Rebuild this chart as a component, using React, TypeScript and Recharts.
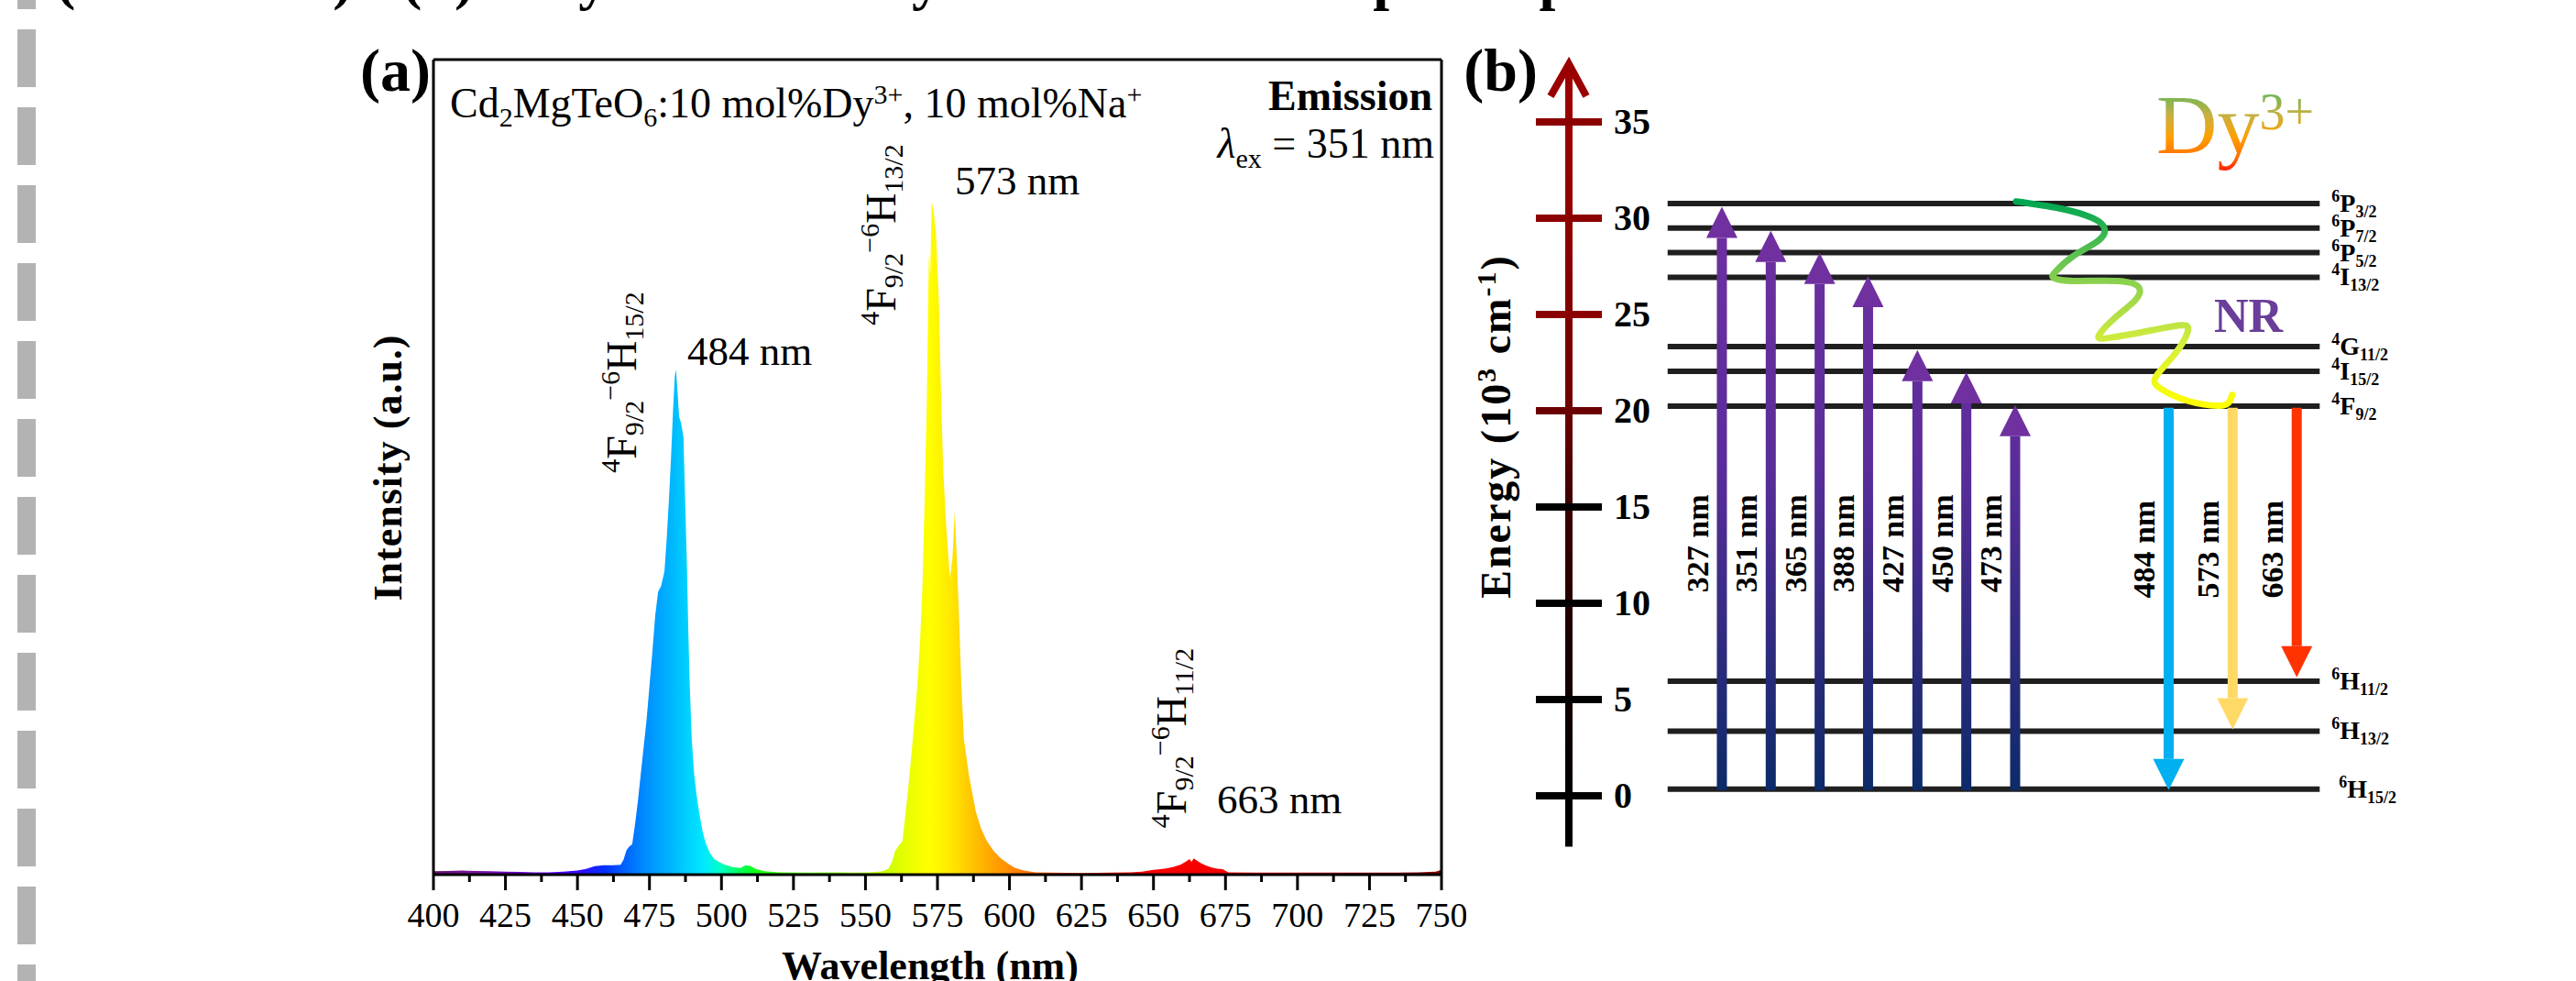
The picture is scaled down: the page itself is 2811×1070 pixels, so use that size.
import React from 'react';
import { ComposedChart, Area, Line, XAxis, YAxis, ReferenceLine, ReferenceDot } from 'recharts';

const SERIF = '"Liberation Serif", "Times New Roman", serif';

// (a) emission spectrum, lambda_ex = 351 nm (a.u., 573 nm peak = 100)
const wavelength = [
  400, 405, 410, 415, 420, 425, 430, 435, 440, 445, 450, 453, 456, 459, 462, 465, 466, 467, 468, 469,
  470, 471, 472, 473, 474, 475, 476, 477, 478, 479, 480.2, 481, 481.8, 482.5, 483.2, 483.8, 484.2, 484.7, 485.3, 486,
  486.8, 487.3, 488, 488.5, 489, 489.7, 490.5, 491.3, 492.2, 493.4, 494.6, 496, 497.5, 499.5, 501, 503.5, 506.5, 508.5, 510, 512,
  515, 520, 530, 540, 545, 552, 556, 558, 559.3, 560.3, 561.5, 562.8, 564, 565, 566, 567, 568, 569, 569.8, 570.5,
  571.3, 572, 572.5, 573, 573.8, 574.5, 575.5, 576.2, 577, 578, 579.3, 580.2, 581, 581.8, 582.5, 583.3, 584.2, 585.9, 588.3, 590,
  592, 594.5, 597, 600, 602, 605, 609, 615, 625, 635, 642, 646, 650, 654, 657, 659.5, 661.5, 662.5, 663.2, 664,
  665, 666.5, 668, 670, 672, 674, 676, 685, 700, 715, 730, 742, 748, 750,
];
const intensity = [
  0.5, 0.55, 0.6, 0.55, 0.5, 0.45, 0.4, 0.35, 0.35, 0.45, 0.6, 0.85, 1.25, 1.4, 1.4, 1.45, 2.2, 3.6, 4.2, 4.5,
  7.5, 11, 15, 19, 23, 28, 33, 38.5, 42, 42.8, 45, 50, 56, 62, 69, 74, 75, 72, 68, 67,
  65, 57, 46, 36, 28, 20, 15, 12, 9.4, 6.5, 4.6, 3.2, 2.3, 1.8, 1.5, 1.15, 1.0, 1.4, 1.3, 0.8,
  0.5, 0.35, 0.3, 0.35, 0.3, 0.35, 0.5, 0.9, 2.0, 3.5, 4.3, 4.9, 9.4, 13.5, 18, 23, 28, 35, 43, 55,
  70, 92, 89, 100, 98, 95, 85, 72, 60, 52, 44, 47, 54, 46, 38, 28, 20, 14.8, 9.4, 7,
  5.1, 3.5, 2.4, 1.5, 1.0, 0.6, 0.35, 0.3, 0.25, 0.3, 0.35, 0.45, 0.7, 0.9, 1.15, 1.5, 2.0, 2.3, 1.9, 2.4,
  2.1, 1.7, 1.4, 1.1, 0.9, 0.8, 0.35, 0.3, 0.3, 0.3, 0.3, 0.35, 0.45, 0.7,
];
const wavelengthTicks = [
  400, 412.5, 425, 437.5, 450, 462.5, 475, 487.5, 500, 512.5, 525, 537.5, 550, 562.5, 575,
  587.5, 600, 612.5, 625, 637.5, 650, 662.5, 675, 687.5, 700, 712.5, 725, 737.5, 750,
];
const spectrumColors: [number, string][] = [
  [400, '#6b0f73'], [415, '#7a14a0'], [430, '#7000d0'], [442, '#5a00ff'], [452, '#2a10ff'],
  [460, '#0033ff'], [467, '#0066ff'], [474, '#0090ff'], [482, '#00b4ff'], [488, '#00d0ff'],
  [494, '#00eaff'], [500, '#00ffc0'], [506, '#00ff60'], [512, '#10ff10'], [525, '#50ff00'],
  [545, '#99ff00'], [558, '#ccff00'], [566, '#eeff00'], [572, '#ffff00'], [580, '#ffe600'],
  [587, '#ffc400'], [595, '#ffa000'], [604, '#ff7a00'], [615, '#ff4d00'], [628, '#ff2000'],
  [640, '#ff0000'], [680, '#f00000'], [710, '#c00000'], [735, '#990000'], [750, '#800000'],
];

// (b) Dy3+ energy levels (10^3 cm-1)
const levelSup = ['6', '6', '6', '4', '4', '4', '4', '6', '6', '6'];
const levelLetter = ['P', 'P', 'P', 'I', 'G', 'I', 'F', 'H', 'H', 'H'];
const levelSub = ['3/2', '7/2', '5/2', '13/2', '11/2', '15/2', '9/2', '11/2', '13/2', '15/2'];
const levelEnergy = [30.76, 29.49, 28.21, 26.93, 23.33, 22.05, 20.24, 5.95, 3.36, 0.35];
const energyTicks = [0, 5, 10, 15, 20, 25, 30, 35];

const excitationNm = [327, 351, 365, 388, 427, 450, 473];
const excitationTop = [30.6, 29.35, 28.2, 27.0, 23.15, 22.0, 20.3];
const excitationSlot = [3.13, 4.13, 5.13, 6.12, 7.13, 8.13, 9.13];

const emissionNm = [484, 573, 663];
const emissionEnd = [0.3, 3.45, 6.15];
const emissionSlot = [12.27, 13.58, 14.89];
const emissionColor = ['#00b0f0', '#ffd966', '#ff3300'];

// non-radiative relaxation path 6P3/2 -> 4F9/2
const nrSlot = [9.15, 10.04, 10.7, 10.95, 10.85, 10.33, 9.96, 9.92, 10.33, 11.22, 11.66, 11.59, 11.22, 10.85, 11.07, 11.95, 12.54, 12.66, 12.4, 12.02, 12.1, 12.68, 13.28, 13.5, 13.57];
const nrEnergy = [30.87, 30.51, 30.02, 29.52, 28.87, 28.05, 27.23, 26.9, 26.74, 26.74, 26.41, 25.75, 24.93, 23.95, 23.79, 24.19, 24.44, 24.11, 22.96, 21.82, 21.16, 20.5, 20.26, 20.42, 20.83];

const spectrum = wavelength.map((wl, k) => ({ wl, v: intensity[k] }));
const nrPath = nrSlot.map((x, k) => ({ x, e: nrEnergy[k] }));

const LEVEL_START = 2.02;
const LEVEL_END = 15.36;

function WavelengthTick(props: any) {
  const { x, y, payload } = props;
  const v = payload.value;
  const major = v % 25 === 0;
  return (
    <g>
      <line x1={x} y1={y} x2={x} y2={y + (major ? 17 : 8)} stroke="#000" strokeWidth={3} />
      {major && (
        <text x={x} y={y + 57} textAnchor="middle" fontFamily={SERIF} fontSize={38} fill="#000">
          {v}
        </text>
      )}
    </g>
  );
}

const arrow = (shaft: string, head: string) => (p: any) => {
  const { x1, y1, x2, y2 } = p;
  const dir = y2 < y1 ? -1 : 1;
  const baseY = y2 - dir * 34;
  return (
    <g>
      <line x1={x1} y1={y1} x2={x2} y2={baseY} stroke={shaft} strokeWidth={11} />
      <polygon points={`${x2},${y2} ${x2 - 17},${baseY} ${x2 + 17},${baseY}`} fill={head} />
    </g>
  );
};

const nmLabel = (nm: number) => (p: any) => (
  <text
    transform={`translate(${p.cx - 15},${p.cy}) rotate(-90)`}
    textAnchor="middle"
    fontFamily={SERIF}
    fontWeight="bold"
    fontSize={34}
    fill="#000"
  >
    {nm} nm
  </text>
);

const frame = { stroke: '#000', strokeWidth: 3 };

function SpectrumPanel() {
  return (
    <ComposedChart width={1600} height={1070} data={spectrum} margin={{ top: 55, right: 17, bottom: 36, left: 463 }}>
      <defs>
        <linearGradient id="specFill" gradientUnits="userSpaceOnUse" x1={473} y1={0} x2={1573} y2={0}>
          {spectrumColors.map(([wl, c]) => (
            <stop key={wl} offset={(wl - 400) / 350} stopColor={c} />
          ))}
        </linearGradient>
      </defs>
      <XAxis
        dataKey="wl"
        type="number"
        domain={[400, 750]}
        ticks={wavelengthTicks}
        interval={0}
        tick={WavelengthTick}
        tickLine={false}
        tickSize={0}
        tickMargin={0}
        height={80}
        axisLine={frame}
        allowDataOverflow
      />
      <XAxis xAxisId="top" orientation="top" type="number" domain={[400, 750]} tick={false} tickLine={false} height={10} axisLine={frame} allowDataOverflow />
      <YAxis type="number" domain={[0, 121]} tick={false} tickLine={false} width={10} axisLine={frame} allowDataOverflow />
      <YAxis yAxisId="right" orientation="right" type="number" domain={[0, 121]} tick={false} tickLine={false} width={10} axisLine={frame} allowDataOverflow />
      <Area dataKey="v" type="linear" fill="url(#specFill)" fillOpacity={1} stroke="none" dot={false} activeDot={false} isAnimationActive={false} />
    </ComposedChart>
  );
}

function LevelPanel() {
  return (
    <ComposedChart width={1150} height={1070} margin={{ top: 0, right: 0, bottom: 0, left: 0 }}>
      <defs>
        <linearGradient id="axisGrad" gradientUnits="userSpaceOnUse" x1={0} y1={68} x2={0} y2={923}>
          <stop offset={0} stopColor="#a00000" />
          <stop offset={0.2} stopColor="#900000" />
          <stop offset={0.44} stopColor="#700000" />
          <stop offset={0.56} stopColor="#3c0000" />
          <stop offset={0.74} stopColor="#1a0000" />
          <stop offset={0.94} stopColor="#000000" />
        </linearGradient>
        <linearGradient id="excGrad" gradientUnits="userSpaceOnUse" x1={0} y1={220} x2={0} y2={862}>
          <stop offset={0} stopColor="#7030a0" />
          <stop offset={0.45} stopColor="#5a2d9a" />
          <stop offset={1} stopColor="#0c2a68" />
        </linearGradient>
        <linearGradient id="nrGrad" gradientUnits="userSpaceOnUse" x1={0} y1={220} x2={0} y2={445}>
          <stop offset={0} stopColor="#00a651" />
          <stop offset={0.4} stopColor="#8fd14f" />
          <stop offset={0.7} stopColor="#d8ef3a" />
          <stop offset={1} stopColor="#ffff00" />
        </linearGradient>
      </defs>
      <XAxis type="number" dataKey="x" domain={[-2.85, 18.71]} hide allowDataOverflow />
      <YAxis type="number" domain={[-9.619, 41.333]} hide allowDataOverflow />

      <ReferenceLine segment={[{ x: 0, y: -2.64 }, { x: 0, y: 37.9 }]} stroke="url(#axisGrad)" strokeWidth={8} />
      <ReferenceDot
        x={0}
        y={38.1}
        r={1}
        shape={(p: any) => (
          <polyline points={`${p.cx - 20},${p.cy + 37} ${p.cx},${p.cy + 2} ${p.cx + 19},${p.cy + 37}`} fill="none" stroke="#9b0000" strokeWidth={8} />
        )}
      />
      {energyTicks.map((e) => (
        <ReferenceLine
          key={`t${e}`}
          segment={[{ x: -0.675, y: e }, { x: 0.675, y: e }]}
          shape={(p: any) => (
            <g>
              <line x1={p.x1} y1={p.y1} x2={p.x2} y2={p.y2} stroke={e > 20 ? '#8b0000' : e === 20 ? '#6b0000' : '#000'} strokeWidth={8} />
              <text x={p.x2 + 13} y={p.y1 + 13.5} fontFamily={SERIF} fontWeight="bold" fontSize={40} fill="#000">
                {e}
              </text>
            </g>
          )}
        />
      ))}

      {levelEnergy.map((e, k) => (
        <ReferenceLine key={`l${k}`} segment={[{ x: LEVEL_START, y: e }, { x: LEVEL_END, y: e }]} stroke="#1f1f1f" strokeWidth={6} />
      ))}
      {levelEnergy.map((e, k) => (
        <ReferenceDot
          key={`ll${k}`}
          x={LEVEL_END}
          y={e}
          r={1}
          shape={(p: any) => (
            <text x={p.cx + (k === levelEnergy.length - 1 ? 21 : 13)} y={p.cy + 9} fontFamily={SERIF} fontWeight="bold" fontSize={28} fill="#000">
              <tspan fontSize={18} dy={-11}>{levelSup[k]}</tspan>
              <tspan dy={11}>{levelLetter[k]}</tspan>
              <tspan fontSize={18} dy={6}>{levelSub[k]}</tspan>
            </text>
          )}
        />
      ))}

      {excitationNm.map((nm, k) => (
        <ReferenceLine
          key={`ex${nm}`}
          segment={[{ x: excitationSlot[k], y: 0.28 }, { x: excitationSlot[k], y: excitationTop[k] }]}
          shape={arrow('url(#excGrad)', '#7030a0')}
        />
      ))}
      {excitationNm.map((nm, k) => (
        <ReferenceDot key={`exl${nm}`} x={excitationSlot[k]} y={13.1} r={1} shape={nmLabel(nm)} />
      ))}
      {emissionNm.map((nm, k) => (
        <ReferenceLine
          key={`em${nm}`}
          segment={[{ x: emissionSlot[k], y: 20.15 }, { x: emissionSlot[k], y: emissionEnd[k] }]}
          shape={arrow(emissionColor[k], emissionColor[k])}
        />
      ))}
      {emissionNm.map((nm, k) => (
        <ReferenceDot key={`eml${nm}`} x={emissionSlot[k]} y={12.8} r={1} shape={nmLabel(nm)} />
      ))}

      <Line data={nrPath} dataKey="e" type="natural" stroke="url(#nrGrad)" strokeWidth={7} strokeLinecap="round" dot={false} activeDot={false} isAnimationActive={false} />
    </ComposedChart>
  );
}

const headingWords: [number, string][] = [
  [61, '(Schematic)'], [439, '(b)'], [585, 'Dy'], [931, 'key'], [1413, 'map'], [1644, 'up'],
];

function Transition({ x, y, sub }: { x: number; y: number; sub: string }) {
  return (
    <text transform={`translate(${x},${y}) rotate(-90)`} textAnchor="middle" fontFamily={SERIF} fontSize={46} fill="#000">
      <tspan fontSize={30} dy={-18}>4</tspan>
      <tspan dy={18}>F</tspan>
      <tspan fontSize={30} dy={8}>9/2</tspan>
      <tspan fontSize={30} dy={-26}>−6</tspan>
      <tspan dy={18}>H</tspan>
      <tspan fontSize={30} dy={8}>{sub}</tspan>
    </text>
  );
}

function Overlay() {
  const dashes = [-1, 0, 1, 2, 3, 4, 5, 6, 7, 8, 9, 10, 11, 12];
  return (
    <svg width={2811} height={1070} style={{ position: 'absolute', left: 0, top: 0, pointerEvents: 'none' }}>
      <defs>
        <linearGradient id="dyGrad" gradientUnits="userSpaceOnUse" x1={0} y1={98} x2={0} y2={192}>
          <stop offset={0} stopColor="#5cb85c" />
          <stop offset={0.3} stopColor="#c8b040" />
          <stop offset={0.55} stopColor="#ffa000" />
          <stop offset={0.78} stopColor="#ff7000" />
          <stop offset={1} stopColor="#ff0000" />
        </linearGradient>
      </defs>
      {dashes.map((k) => (
        <rect key={k} x={19} y={32 + 85 * k} width={20} height={63} fill="#b3b3b3" />
      ))}
      <text y={-2} fontFamily={SERIF} fontWeight="bold" fontSize={64} fill="#000">
        {headingWords.map(([x, w]) => (
          <tspan key={x} x={x}>{w}</tspan>
        ))}
      </text>

      <g fontFamily={SERIF} fill="#000">
        <text x={470} y={99} textAnchor="end" fontWeight="bold" fontSize={66}>(a)</text>
        <text x={1678} y={99} textAnchor="end" fontWeight="bold" fontSize={66}>(b)</text>

        <text x={491} y={128} fontSize={46}>
          Cd<tspan fontSize={30} dy={10}>2</tspan>
          <tspan dy={-10}>MgTeO</tspan>
          <tspan fontSize={30} dy={10}>6</tspan>
          <tspan dy={-10}>:10 mol%Dy</tspan>
          <tspan fontSize={30} dy={-15}>3+</tspan>
          <tspan dy={15}>, 10 mol%Na</tspan>
          <tspan fontSize={30} dy={-15}>+</tspan>
        </text>
        <text x={1563} y={120} textAnchor="end" fontWeight="bold" fontSize={46}>Emission</text>
        <text x={1565} y={172} textAnchor="end" fontSize={46}>
          <tspan fontStyle="italic">λ</tspan>
          <tspan fontSize={30} dy={11}>ex</tspan>
          <tspan dy={-11}> = 351 nm</tspan>
        </text>

        <text x={750} y={398} fontSize={45}>484 nm</text>
        <text x={1042} y={212} fontSize={45}>573 nm</text>
        <text x={1328} y={887} fontSize={45}>663 nm</text>
        <Transition x={694} y={417} sub="15/2" />
        <Transition x={977} y={256} sub="13/2" />
        <Transition x={1294} y={805} sub="11/2" />

        <text transform="translate(438,510) rotate(-90)" textAnchor="middle" fontWeight="bold" fontSize={44} letterSpacing={1}>
          Intensity (a.u.)
        </text>
        <text x={1015} y={1068} textAnchor="middle" fontWeight="bold" fontSize={44}>Wavelength (nm)</text>

        <text transform="translate(1648,465) rotate(-90)" textAnchor="middle" fontWeight="bold" fontSize={46} letterSpacing={2}>
          Energy (10<tspan fontSize={30} dy={-16}>3</tspan>
          <tspan dy={16}> cm</tspan>
          <tspan fontSize={30} dy={-16}>-1</tspan>
          <tspan dy={16}>)</tspan>
        </text>

        <text x={2353} y={167} fontSize={92} fill="url(#dyGrad)">
          Dy<tspan fontSize={56} dy={-26}>3+</tspan>
        </text>
        <text x={2416} y={362} fontWeight="bold" fontSize={52} fill="#6a3d9a">NR</text>
      </g>
    </svg>
  );
}

export default function App() {
  return (
    <div style={{ position: 'absolute', left: 0, top: 0, width: 2811, height: 1070, background: '#fff', overflow: 'hidden' }}>
      <div style={{ position: 'absolute', left: 0, top: 0 }}>
        <SpectrumPanel />
      </div>
      <div style={{ position: 'absolute', left: 1560, top: 0 }}>
        <LevelPanel />
      </div>
      <Overlay />
    </div>
  );
}
